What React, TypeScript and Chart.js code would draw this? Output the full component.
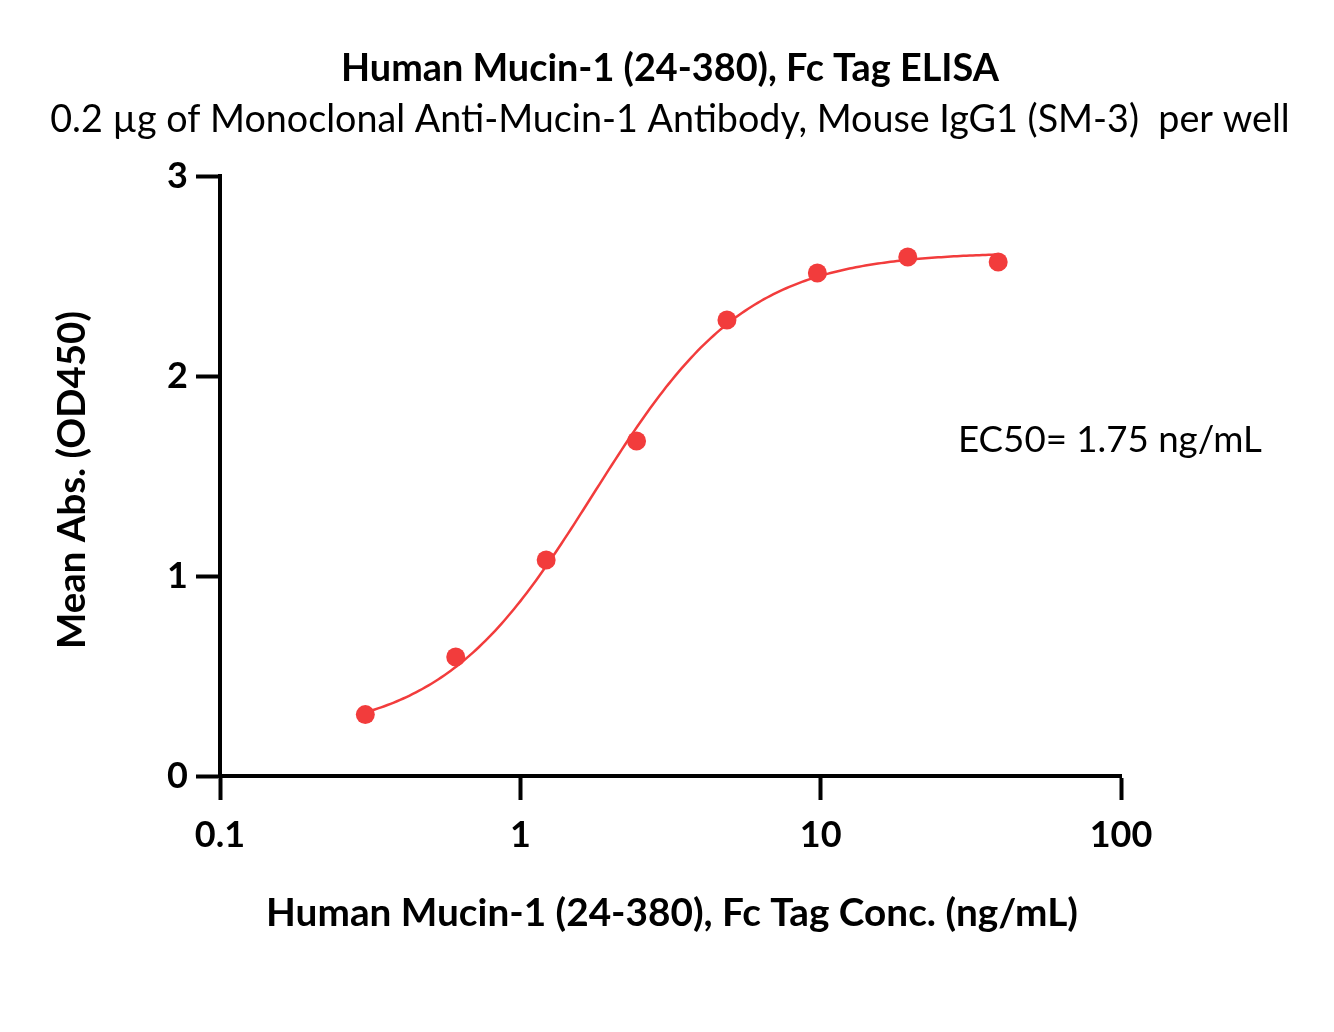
import React, { useEffect, useRef } from "react";
import { Chart, registerables } from "chart.js";

Chart.register(...registerables);

// ---- data ----
const concentrations = [0.3047, 0.6094, 1.219, 2.4375, 4.875, 9.75, 19.5, 39];
const meanAbs = [0.307, 0.595, 1.08, 1.675, 2.28, 2.515, 2.595, 2.57];
const xTickValues = [0.1, 1, 10, 100];
const xTickLabels = ["0.1", "1", "10", "100"];
const yTickValues = [0, 1, 2, 3];
const yTickLabels = ["0", "1", "2", "3"];

// 4-parameter logistic fit (model curve)
const fitBottom = 0.2;
const fitTop = 2.62;
const fitEC50 = 1.75;
const fitHill = 1.7;

const titleText = "Human Mucin-1 (24-380), Fc Tag ELISA";
const subtitleText = "0.2 \u00b5g of Monoclonal Anti-Mucin-1 Antibody, Mouse IgG1 (SM-3)  per well";
const xTitleText = "Human Mucin-1 (24-380), Fc Tag Conc. (ng/mL)";
const yTitleText = "Mean Abs. (OD450)";
const ec50Text = "EC50= 1.75 ng/mL";

const RED = "#F23C3C";
const FONT = "Lato, 'Open Sans', sans-serif";

function fourPL(x: number): number {
  return fitBottom + (fitTop - fitBottom) / (1 + Math.pow(fitEC50 / x, fitHill));
}

function buildFitCurve() {
  const lo = Math.log10(concentrations[0]);
  const hi = Math.log10(concentrations[concentrations.length - 1]);
  const n = 200;
  const pts: { x: number; y: number }[] = [];
  for (let i = 0; i <= n; i++) {
    const x = Math.pow(10, lo + ((hi - lo) * i) / n);
    pts.push({ x, y: fourPL(x) });
  }
  return pts;
}

function drawFitted(
  ctx: CanvasRenderingContext2D,
  text: string,
  weight: string,
  targetWidth: number,
  x: number,
  y: number,
  align: CanvasTextAlign,
  rotate = 0
) {
  ctx.save();
  ctx.font = `${weight} 100px ${FONT}`;
  const w = ctx.measureText(text).width;
  const size = (100 * targetWidth) / w;
  ctx.font = `${weight} ${size}px ${FONT}`;
  ctx.fillStyle = "#000";
  ctx.textAlign = align;
  ctx.textBaseline = "middle";
  ctx.translate(x, y);
  if (rotate) ctx.rotate(rotate);
  ctx.fillText(text, 0, 0);
  ctx.restore();
}

const textPlugin = {
  id: "texts",
  afterDraw(chart: any) {
    const ctx = chart.ctx as CanvasRenderingContext2D;
    drawFitted(ctx, titleText, "bold", 658, 670, 69, "center");
    drawFitted(ctx, subtitleText, "normal", 1240, 670, 120, "center");
    drawFitted(ctx, xTitleText, "bold", 812, 672, 914, "center");
    drawFitted(ctx, yTitleText, "bold", 338, 73, 480, "center", -Math.PI / 2);
    drawFitted(ctx, ec50Text, "normal", 304, 958, 440, "left");
  },
};

export default function App() {
  const ref = useRef<HTMLCanvasElement>(null);

  useEffect(() => {
    if (!ref.current) return;
    const points = concentrations.map((c, i) => ({ x: c, y: meanAbs[i] }));
    const tickFont = { family: FONT, size: 36, weight: "bold" as const };
    const chart = new Chart(ref.current, {
      type: "scatter",
      data: {
        datasets: [
          {
            label: "data",
            data: points,
            showLine: false,
            pointRadius: 9.5,
            pointHoverRadius: 9.5,
            pointBackgroundColor: RED,
            pointBorderWidth: 0,
            backgroundColor: RED,
            borderColor: RED,
          },
          {
            label: "fit",
            type: "line",
            data: buildFitCurve(),
            showLine: true,
            pointRadius: 0,
            borderColor: RED,
            borderWidth: 2.5,
            fill: false,
            tension: 0,
          } as any,
        ],
      },
      options: {
        responsive: false,
        animation: false,
        events: [],
        layout: { padding: { top: 176, right: 213, left: 0, bottom: 0 } },
        plugins: {
          legend: { display: false },
          tooltip: { enabled: false },
          title: { display: false },
        },
        scales: {
          x: {
            type: "logarithmic",
            min: 0.1,
            max: 100,
            afterBuildTicks: (s: any) => {
              s.ticks = xTickValues.map((v) => ({ value: v }));
            },
            afterFit: (s: any) => {
              s.height = 256;
            },
            ticks: {
              autoSkip: false,
              maxRotation: 0,
              minRotation: 0,
              padding: 14,
              color: "#000",
              font: tickFont,
              callback: (_v: any, i: number) => xTickLabels[i],
            },
            grid: {
              display: true,
              drawOnChartArea: false,
              drawTicks: true,
              tickLength: 24,
              tickWidth: 4,
              tickColor: "#000",
            },
            border: { display: true, width: 4, color: "#000" },
          },
          y: {
            type: "linear",
            min: 0,
            max: 3,
            afterBuildTicks: (s: any) => {
              s.ticks = yTickValues.map((v) => ({ value: v }));
            },
            afterFit: (s: any) => {
              s.width = 220;
            },
            ticks: {
              autoSkip: false,
              padding: 8,
              color: "#000",
              font: tickFont,
              callback: (_v: any, i: number) => yTickLabels[i],
            },
            grid: {
              display: true,
              drawOnChartArea: false,
              drawTicks: true,
              tickLength: 24,
              tickWidth: 4,
              tickColor: "#000",
            },
            border: { display: true, width: 4, color: "#000" },
          },
        },
      },
      plugins: [textPlugin],
    });
    return () => chart.destroy();
  }, []);

  return (
    <div style={{ position: "fixed", left: 0, top: 0, width: 1334, height: 1032, background: "#fff" }}>
      <canvas ref={ref} width={1334} height={1032} style={{ display: "block" }} />
    </div>
  );
}
